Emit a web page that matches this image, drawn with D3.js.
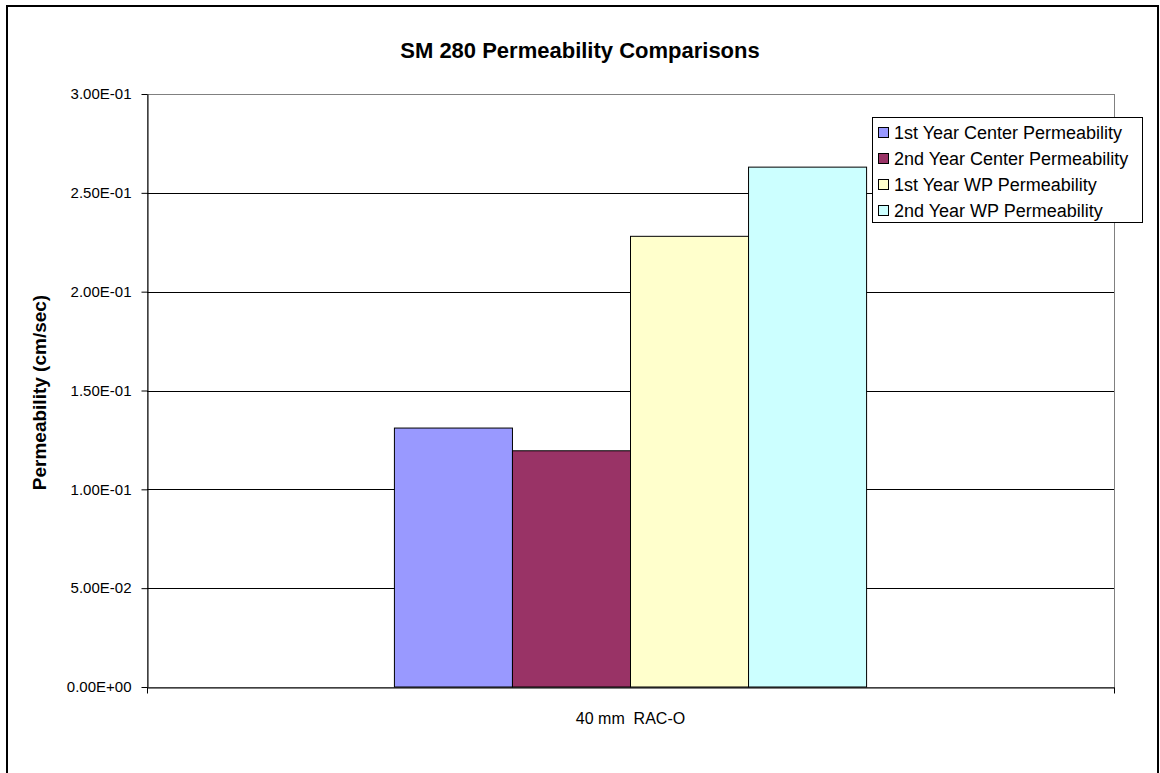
<!DOCTYPE html>
<html>
<head>
<meta charset="utf-8">
<script src="https://cdn.jsdelivr.net/npm/d3@7"></script>
<style>
  html, body { margin: 0; padding: 0; background: #fff; }
  svg { display: block; font-family: "Liberation Sans", Arial, sans-serif; }
  text { white-space: pre; }
</style>
</head>
<body>
<svg id="chart" width="1160" height="773"></svg>
<script>
// ---- data ----
const categories = ["40 mm  RAC-O"];
const seriesNames = [
  "1st Year Center Permeability",
  "2nd Year Center Permeability",
  "1st Year WP Permeability",
  "2nd Year WP Permeability"
];
const seriesValues = [0.131, 0.1195, 0.228, 0.263];
const seriesColors = ["#9999FF", "#993366", "#FFFFCC", "#CCFFFF"];
const yTicks = [0, 0.05, 0.10, 0.15, 0.20, 0.25, 0.30];
const titleText = "SM 280 Permeability Comparisons";
const yAxisTitle = "Permeability (cm/sec)";

// ---- layout ----
const svg = d3.select("#chart");
const plot = { left: 147, right: 1114, top: 94, bottom: 687 };

// outer frame
svg.append("rect")
  .attr("x", 7).attr("y", 6)
  .attr("width", 1151).attr("height", 800)
  .attr("fill", "#fff").attr("stroke", "#000").attr("stroke-width", 2);

const y = d3.scaleLinear().domain([0, 0.3]).range([plot.bottom, plot.top]);
const x0 = d3.scaleBand().domain(categories).range([plot.left, plot.right])
  .paddingInner(0).paddingOuter(0.524);
const x1 = d3.scaleBand().domain(seriesNames).range([0, x0.bandwidth()]).padding(0);

// plot area border (gray top/right)
svg.append("rect")
  .attr("x", plot.left + 0.5).attr("y", plot.top + 0.5)
  .attr("width", plot.right - plot.left).attr("height", plot.bottom - plot.top)
  .attr("fill", "none").attr("stroke", "#808080").attr("stroke-width", 1);

// gridlines
svg.append("g").selectAll("line")
  .data(yTicks.filter(d => d > 0 && d < 0.3))
  .join("line")
  .attr("x1", plot.left).attr("x2", plot.right)
  .attr("y1", d => Math.round(y(d)) + 0.5).attr("y2", d => Math.round(y(d)) + 0.5)
  .attr("stroke", "#000").attr("stroke-width", 1);

// bars
const groups = svg.append("g").selectAll("g")
  .data(categories)
  .join("g")
  .attr("transform", d => `translate(${x0(d)},0)`);
groups.selectAll("rect")
  .data(() => seriesNames.map((s, i) => ({ s, v: seriesValues[i], c: seriesColors[i] })))
  .join("rect")
  .attr("x", d => x1(d.s))
  .attr("y", d => y(d.v))
  .attr("width", x1.bandwidth())
  .attr("height", d => plot.bottom - y(d.v))
  .attr("fill", d => d.c)
  .attr("stroke", "#000").attr("stroke-width", 1);

// y axis
const yAxis = d3.axisLeft(y).tickValues(yTicks).tickSize(6).tickSizeOuter(0)
  .tickFormat(d => d.toExponential(2).toUpperCase().replace(/E([+-])(\d)$/, "E$10$2"));
const gy = svg.append("g").attr("transform", `translate(${plot.left + 0.5},0)`).call(yAxis);
gy.attr("font-family", null).attr("font-size", null);
gy.select(".domain").attr("stroke", "#000");
gy.selectAll(".tick line").attr("stroke", "#000");
gy.selectAll(".tick text").attr("font-size", 15).attr("fill", "#000").attr("x", -16);

// x axis
const xAxis = d3.axisBottom(x0).tickSize(0).tickSizeOuter(0);
const gx = svg.append("g").attr("transform", `translate(0,${plot.bottom + 0.5})`).call(xAxis);
gx.attr("font-family", null).attr("font-size", null);
gx.select(".domain").attr("stroke", "#000");
gx.selectAll(".tick text").attr("font-size", 16).attr("fill", "#000").attr("dy", 0).attr("y", 36);
// category boundary tick marks
gx.selectAll(".edge").data([plot.left, plot.right]).join("line")
  .attr("x1", d => d + 0.5).attr("x2", d => d + 0.5)
  .attr("y1", 0).attr("y2", 6).attr("stroke", "#000");

// title
svg.append("text")
  .attr("x", 580).attr("y", 58)
  .attr("text-anchor", "middle")
  .attr("font-size", 22).attr("font-weight", "bold")
  .text(titleText);

// y axis title
svg.append("text")
  .attr("transform", `translate(46,${(plot.top + plot.bottom) / 2 + 2}) rotate(-90)`)
  .attr("text-anchor", "middle")
  .attr("font-size", 19).attr("font-weight", "bold")
  .text(yAxisTitle);

// legend
const lg = svg.append("g").attr("transform", "translate(872,117)");
lg.append("rect").attr("x", 0.5).attr("y", 0.5).attr("width", 270).attr("height", 105)
  .attr("fill", "#fff").attr("stroke", "#000").attr("stroke-width", 1);
const items = lg.selectAll("g.item")
  .data(seriesNames.map((s, i) => ({ s, c: seriesColors[i] })))
  .join("g").attr("class", "item")
  .attr("transform", (d, i) => `translate(0,${15 + i * 26})`);
items.append("rect").attr("x", 6.5).attr("y", -4.5).attr("width", 10).attr("height", 10)
  .attr("fill", d => d.c).attr("stroke", "#000").attr("stroke-width", 1);
items.append("text").attr("x", 22).attr("y", 6.5)
  .attr("font-size", 18).text(d => d.s);
</script>
</body>
</html>
